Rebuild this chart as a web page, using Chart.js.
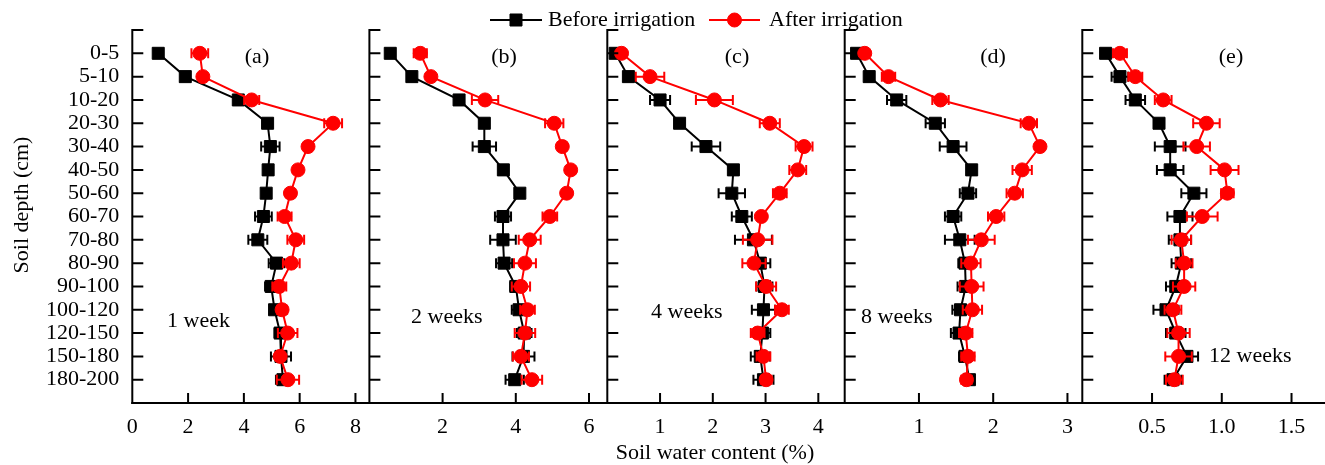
<!DOCTYPE html>
<html>
<head>
<meta charset="utf-8">
<script src="https://cdn.jsdelivr.net/npm/chart.js@4.4.1/dist/chart.umd.min.js"></script>
<style>
html,body{margin:0;padding:0;background:#fff;}
#wrap{width:1325px;height:465px;position:relative;}
canvas{display:block;}
</style>
</head>
<body>
<div id="wrap"><canvas id="c" width="1325" height="465"></canvas></div>
<script>
// ---------- data ----------
const depths = ['0-5','5-10','10-20','20-30','30-40','40-50','50-60','60-70','70-80','80-90','90-100','100-120','120-150','150-180','180-200'];
const yLabels = [''].concat(depths, [' ']);
const seriesNames = ['Before irrigation', 'After irrigation'];
const panelLetters = ['(a)', '(b)', '(c)', '(d)', '(e)'];
const weekLabels = ['1 week', '2 weeks', '4 weeks', '8 weeks', '12 weeks'];
const xTitle = 'Soil water content (%)';
const yTitle = 'Soil depth (cm)';

const xMax = [8.5, 6.5, 4.5, 3.2, 1.74];
const xTicksA = [0, 2, 4, 6, 8];
const xTicksB = [2, 4, 6];
const xTicksC = [1, 2, 3, 4];
const xTicksD = [1, 2, 3];
const xTicksE = [0.5, 1.0, 1.5];

// (a) 1 week
const beforeA    = [0.93, 1.90, 3.80, 4.85, 4.95, 4.87, 4.80, 4.70, 4.50, 5.17, 4.98, 5.10, 5.30, 5.33, 5.40];
const beforeErrA = [0.05, 0.05, 0.08, 0.10, 0.33, 0.12, 0.10, 0.30, 0.34, 0.28, 0.22, 0.12, 0.20, 0.36, 0.25];
const afterA     = [2.42, 2.53, 4.28, 7.20, 6.30, 5.94, 5.67, 5.46, 5.86, 5.70, 5.27, 5.37, 5.57, 5.30, 5.58];
const afterErrA  = [0.30, 0.10, 0.27, 0.32, 0.10, 0.10, 0.15, 0.25, 0.30, 0.30, 0.25, 0.18, 0.35, 0.15, 0.40];
// (b) 2 weeks
const beforeB    = [0.57, 1.16, 2.45, 3.14, 3.14, 3.66, 4.11, 3.65, 3.65, 3.68, 4.00, 4.09, 4.23, 4.21, 3.97];
const beforeErrB = [0.05, 0.05, 0.08, 0.08, 0.32, 0.08, 0.10, 0.22, 0.35, 0.22, 0.15, 0.20, 0.20, 0.30, 0.25];
const afterB     = [1.39, 1.68, 3.16, 5.05, 5.27, 5.50, 5.39, 4.93, 4.38, 4.25, 4.14, 4.32, 4.25, 4.14, 4.44];
const afterErrB  = [0.18, 0.10, 0.36, 0.25, 0.12, 0.12, 0.10, 0.20, 0.30, 0.30, 0.25, 0.20, 0.28, 0.22, 0.28];
// (c) 4 weeks
const beforeC    = [0.15, 0.40, 1.00, 1.37, 1.87, 2.39, 2.36, 2.55, 2.77, 2.90, 2.98, 2.96, 2.94, 2.90, 2.96];
const beforeErrC = [0.05, 0.05, 0.19, 0.06, 0.27, 0.06, 0.25, 0.19, 0.35, 0.19, 0.15, 0.22, 0.15, 0.18, 0.19];
const afterC     = [0.27, 0.81, 2.03, 3.08, 3.73, 3.61, 3.27, 2.92, 2.85, 2.78, 3.01, 3.31, 2.85, 2.96, 3.01];
const afterErrC  = [0.05, 0.27, 0.35, 0.19, 0.16, 0.16, 0.13, 0.06, 0.28, 0.22, 0.19, 0.13, 0.13, 0.13, 0.10];
// (d) 8 weeks
const beforeD    = [0.16, 0.33, 0.70, 1.22, 1.46, 1.71, 1.66, 1.46, 1.55, 1.62, 1.63, 1.56, 1.54, 1.62, 1.68];
const beforeErrD = [0.03, 0.03, 0.13, 0.13, 0.18, 0.05, 0.11, 0.11, 0.20, 0.09, 0.11, 0.11, 0.11, 0.08, 0.06];
const afterD     = [0.27, 0.59, 1.29, 2.48, 2.63, 2.39, 2.29, 2.04, 1.84, 1.70, 1.71, 1.72, 1.63, 1.66, 1.64];
const afterErrD  = [0.04, 0.09, 0.11, 0.11, 0.05, 0.13, 0.11, 0.11, 0.18, 0.13, 0.16, 0.13, 0.09, 0.09, 0.07];
// (e) 12 weeks
const beforeE    = [0.167, 0.27, 0.38, 0.55, 0.63, 0.63, 0.80, 0.70, 0.70, 0.71, 0.67, 0.60, 0.67, 0.75, 0.65];
const beforeErrE = [0.02, 0.06, 0.07, 0.02, 0.11, 0.095, 0.09, 0.09, 0.08, 0.07, 0.07, 0.09, 0.07, 0.08, 0.06];
const afterE     = [0.27, 0.38, 0.58, 0.89, 0.82, 1.02, 1.04, 0.86, 0.71, 0.73, 0.73, 0.65, 0.69, 0.69, 0.66];
const afterErrE  = [0.05, 0.05, 0.06, 0.095, 0.095, 0.10, 0.045, 0.11, 0.07, 0.06, 0.08, 0.06, 0.08, 0.095, 0.06];

// ---------- build ----------
const BLACK = '#000000';
const RED = '#ff0000';
const FONT = "'Liberation Serif', 'Times New Roman', serif";
Chart.defaults.font.family = FONT;
Chart.defaults.font.size = 22;
Chart.defaults.color = '#000';

const panels = [
  {before: beforeA, beforeErr: beforeErrA, after: afterA, afterErr: afterErrA, ticks: xTicksA, fmt: v => String(v)},
  {before: beforeB, beforeErr: beforeErrB, after: afterB, afterErr: afterErrB, ticks: xTicksB, fmt: v => String(v)},
  {before: beforeC, beforeErr: beforeErrC, after: afterC, afterErr: afterErrC, ticks: xTicksC, fmt: v => String(v)},
  {before: beforeD, beforeErr: beforeErrD, after: afterD, afterErr: afterErrD, ticks: xTicksD, fmt: v => String(v)},
  {before: beforeE, beforeErr: beforeErrE, after: afterE, afterErr: afterErrE, ticks: xTicksE, fmt: v => Number(v).toFixed(1)}
];
const panelWidths = [237.1, 237.9, 237.4, 237.6, 242.7];

const blackStyle = {borderColor: BLACK, backgroundColor: BLACK, pointBorderColor: BLACK, pointBackgroundColor: BLACK,
  borderWidth: 2, pointStyle: 'rect', pointRadius: 8.5, pointHoverRadius: 8.5, pointBorderWidth: 1, order: 2};
const redStyle = {borderColor: RED, backgroundColor: RED, pointBorderColor: RED, pointBackgroundColor: RED,
  borderWidth: 2, pointStyle: 'circle', pointRadius: 7, pointHoverRadius: 7, pointBorderWidth: 1, order: 1};

const datasets = [];
const scales = {
  y: {
    type: 'category', labels: yLabels, position: 'left', offset: false,
    grid: {display: false, drawTicks: false}, border: {display: false},
    ticks: {autoSkip: false, padding: 13, font: {size: 22}},
    afterFit: s => { s.width = 132.3; s.paddingTop = 0; s.paddingBottom = 0; s.paddingLeft = 0; s.paddingRight = 0; }
  }
};
panels.forEach((p, k) => {
  const xid = 'x' + (k + 1);
  datasets.push(Object.assign({label: seriesNames[0], xAxisID: xid, yAxisID: 'y', tension: 0,
    errors: p.beforeErr, data: depths.map((d, i) => ({x: p.before[i], y: d}))}, blackStyle));
  datasets.push(Object.assign({label: seriesNames[1], xAxisID: xid, yAxisID: 'y', tension: 0,
    errors: p.afterErr, data: depths.map((d, i) => ({x: p.after[i], y: d}))}, redStyle));
  scales[xid] = {
    type: 'linear', position: 'bottom', stack: 'panels', stackWeight: panelWidths[k],
    min: 0, max: xMax[k],
    grid: {display: false, drawTicks: false}, border: {display: false},
    ticks: {autoSkip: false, maxRotation: 0, minRotation: 0, padding: 11, font: {size: 22}, callback: v => p.fmt(v)},
    afterBuildTicks: s => { s.ticks = p.ticks.map(v => ({value: v})); },
    afterFit: s => { s.height = 62; s.paddingLeft = 0; s.paddingRight = 0; s.paddingTop = 0; s.paddingBottom = 0; }
  };
});

const decor = {
  id: 'decor',
  beforeDatasetDraw(chart, args) {
    const ds = chart.data.datasets[args.index];
    const meta = args.meta;
    const xs = meta.xScale;
    const ctx = chart.ctx;
    ctx.save();
    ctx.strokeStyle = ds.borderColor;
    ctx.lineWidth = 2;
    meta.data.forEach((pt, i) => {
      const v = ds.data[i].x, e = ds.errors[i];
      const xl = xs.getPixelForValue(v - e), xr = xs.getPixelForValue(v + e), y = pt.y;
      ctx.beginPath();
      ctx.moveTo(xl, y); ctx.lineTo(xr, y);
      ctx.moveTo(xl, y - 5); ctx.lineTo(xl, y + 5);
      ctx.moveTo(xr, y - 5); ctx.lineTo(xr, y + 5);
      ctx.stroke();
    });
    ctx.restore();
  },
  afterDraw(chart) {
    const ctx = chart.ctx;
    const area = chart.chartArea;
    const ys = chart.scales.y;
    ctx.save();
    ctx.strokeStyle = BLACK;
    ctx.fillStyle = BLACK;
    ctx.lineWidth = 2;
    // bottom axis line
    ctx.beginPath();
    ctx.moveTo(area.left - 1, area.bottom); ctx.lineTo(area.right, area.bottom);
    ctx.stroke();
    for (let k = 0; k < panels.length; k++) {
      const xs = chart.scales['x' + (k + 1)];
      const left = xs.left;
      // panel left axis line
      ctx.beginPath();
      ctx.moveTo(left, area.top - 1); ctx.lineTo(left, area.bottom + 1);
      ctx.stroke();
      // inward y ticks
      ctx.beginPath();
      for (let i = 0; i < yLabels.length - 1; i++) {
        const y = ys.getPixelForValue(i);
        ctx.moveTo(left, y); ctx.lineTo(left + 11, y);
      }
      ctx.stroke();
      // inward x ticks
      ctx.beginPath();
      xs.ticks.forEach(t => {
        const px = xs.getPixelForValue(t.value);
        if (Math.abs(px - left) > 1.5) { ctx.moveTo(px, area.bottom); ctx.lineTo(px, area.bottom - 10); }
      });
      ctx.stroke();
    }
    // panel letters and week labels
    ctx.font = '22px ' + FONT;
    ctx.textBaseline = 'alphabetic';
    const letterX = [257, 504, 737, 993, 1231];
    ctx.textAlign = 'center';
    panelLetters.forEach((t, k) => ctx.fillText(t, letterX[k], 63));
    const weekPos = [[167, 327], [411, 323], [651, 318], [861, 323], [1209, 362]];
    ctx.textAlign = 'left';
    weekLabels.forEach((t, k) => ctx.fillText(t, weekPos[k][0], weekPos[k][1]));
    // axis titles
    ctx.textAlign = 'center';
    ctx.fillText(xTitle, 715, 459);
    ctx.save();
    ctx.translate(28, 205);
    ctx.rotate(-Math.PI / 2);
    ctx.fillText(yTitle, 0, 0);
    ctx.restore();
    // legend
    const ly = 20;
    const items = [
      {style: blackStyle, x0: 490, x1: 542, name: seriesNames[0], tx: 548},
      {style: redStyle, x0: 709, x1: 760, name: seriesNames[1], tx: 769}
    ];
    items.forEach(it => {
      ctx.strokeStyle = it.style.borderColor;
      ctx.fillStyle = it.style.backgroundColor;
      ctx.lineWidth = 2;
      ctx.beginPath(); ctx.moveTo(it.x0, ly); ctx.lineTo(it.x1, ly); ctx.stroke();
      ctx.lineWidth = 1;
      Chart.helpers.drawPoint(ctx, {pointStyle: it.style.pointStyle, radius: it.style.pointRadius, rotation: 0, borderWidth: 1},
        (it.x0 + it.x1) / 2, ly);
      ctx.fillStyle = BLACK;
      ctx.textAlign = 'left';
      ctx.fillText(it.name, it.tx, 26);
    });
    ctx.restore();
  }
};

new Chart(document.getElementById('c'), {
  type: 'line',
  data: {datasets},
  options: {
    responsive: false,
    animation: false,
    layout: {autoPadding: false, padding: {top: 30, left: 0, right: 0, bottom: 0}},
    plugins: {legend: {display: false}, tooltip: {enabled: false}, title: {display: false}},
    scales
  },
  plugins: [decor]
});
</script>
</body>
</html>
